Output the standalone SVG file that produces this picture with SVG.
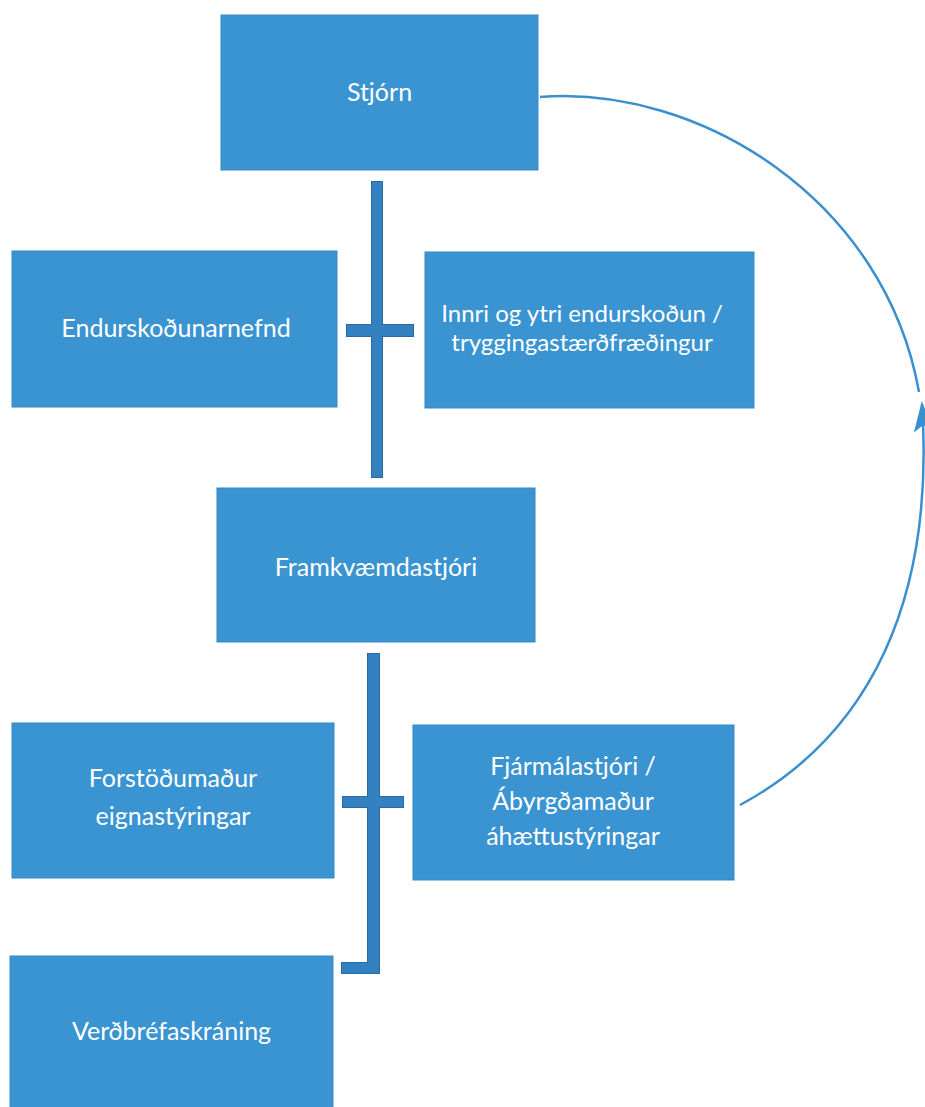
<svg xmlns="http://www.w3.org/2000/svg" width="925" height="1107" viewBox="0 0 925 1107">
  <style>
    .box { fill: #3a94d2; stroke: #3489c4; stroke-width: 1; }
    .lbl { fill: #ffffff; font-family: Lato, "Open Sans", "Liberation Sans", sans-serif; font-size: 25px; text-anchor: middle; }
    .sm { font-size: 24px; }
    .barO { fill: #3381c0; stroke: #2a6aa0; stroke-width: 2; }
    .barF { fill: #3381c0; }
    .arc { fill: none; stroke: #3a8fcf; stroke-width: 2.5; }
  </style>
  <defs>
    <marker id="ah" markerUnits="userSpaceOnUse" markerWidth="40" markerHeight="30" viewBox="-32 -15 40 30" refX="0" refY="0" orient="auto">
      <path d="M 3 0 L -28 -10 L -21 0 L -28 10 Z" fill="#3a8fcf"/>
    </marker>
  </defs>
  <rect width="925" height="1107" fill="#ffffff"/>

  <g id="connectors">
    <rect class="barO" x="372" y="182" width="10" height="295"/>
    <rect class="barO" x="347" y="325" width="66" height="11"/>
    <rect class="barO" x="368" y="654" width="11" height="319"/>
    <rect class="barO" x="343" y="797" width="60" height="10"/>
    <rect class="barO" x="342" y="963" width="37" height="10"/>
    <rect class="barF" x="372" y="182" width="10" height="295"/>
    <rect class="barF" x="347" y="325" width="66" height="11"/>
    <rect class="barF" x="368" y="654" width="11" height="319"/>
    <rect class="barF" x="343" y="797" width="60" height="10"/>
    <rect class="barF" x="342" y="963" width="37" height="10"/>
    <path class="arc" d="M 540 97 C 700 85, 885 200, 919 392"/>
    <path class="arc" d="M 740 805 C 870 735, 935 600, 922 404" marker-end="url(#ah)"/>
  </g>

  <g id="stjorn">
    <rect class="box" x="221" y="15" width="317" height="155"/>
    <text class="lbl" x="379.5" y="101">Stjórn</text>
  </g>
  <g id="endurskodunarnefnd">
    <rect class="box" x="12" y="251" width="325" height="156"/>
    <text class="lbl" x="176" y="337">Endurskoðunarnefnd</text>
  </g>
  <g id="innri">
    <rect class="box" x="425" y="252" width="329" height="156"/>
    <text class="lbl sm" x="582" y="322">Innri og ytri endurskoðun /</text>
    <text class="lbl sm" x="582" y="351">tryggingastærðfræðingur</text>
  </g>
  <g id="framkvaemdastjori">
    <rect class="box" x="217" y="488" width="318" height="154"/>
    <text class="lbl" x="376" y="576">Framkvæmdastjóri</text>
  </g>
  <g id="forstodumadur">
    <rect class="box" x="12" y="723" width="322" height="155"/>
    <text class="lbl" x="173" y="787">Forstöðumaður</text>
    <text class="lbl" x="173" y="825">eignastýringar</text>
  </g>
  <g id="fjarmalastjori">
    <rect class="box" x="413" y="725" width="321" height="155"/>
    <text class="lbl" x="573" y="775">Fjármálastjóri /</text>
    <text class="lbl" x="573" y="810">Ábyrgðamaður</text>
    <text class="lbl" x="573" y="845">áhættustýringar</text>
  </g>
  <g id="verdbrefaskraning">
    <rect class="box" x="10" y="956" width="323" height="160"/>
    <text class="lbl" x="171.5" y="1040">Verðbréfaskráning</text>
  </g>
</svg>
